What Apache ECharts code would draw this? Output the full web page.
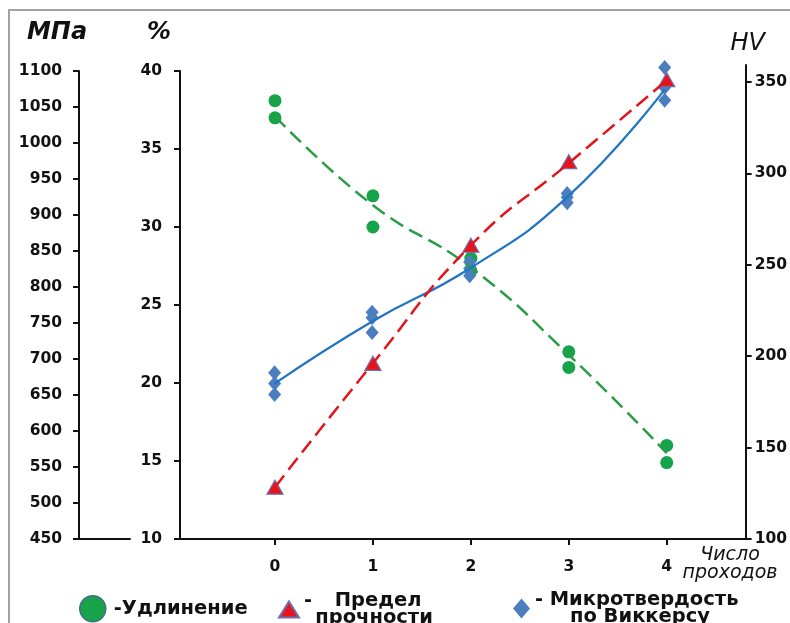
<!DOCTYPE html>
<html>
<head>
<meta charset="utf-8">
<script src="https://cdn.jsdelivr.net/npm/echarts@6/dist/echarts.min.js"></script>
<style>
html,body{margin:0;padding:0;background:#fff;}
#chart{width:790px;height:623px;}
</style>
</head>
<body>
<div id="chart"></div>
<script>
// ---- data ----
const passes = [0, 1, 2, 3, 4];
const elongationHigh = [38.1, 32.0, 28.0, 22.0, 16.0];
const elongationLow = [37.0, 30.0, 27.2, 21.0, 14.9];
const elongationTrend = [37.1, 31.4, 27.4, 21.8, 15.5];
const strength = [522, 694, 858, 974, 1088];
const strengthTrend = [522, 694, 858, 972, 1087];
const hvA = [191, 224, 251.5, 289, 358];
const hvB = [185, 221, 248, 287, 347];
const hvC = [179, 213, 244, 284, 340];
const hvTrend = [185, 219, 248, 287, 346];
const hvTicks = [100, 150, 200, 250, 300, 350];

function pairs(ys) { return passes.map((x, i) => [x, ys[i]]); }

const FONT = 'DejaVu Sans';
const labelStyle = { fontFamily: FONT, fontWeight: 'bold', fontSize: 15.5, color: '#111', formatter: v => String(v) };
const axisLineStyle = { show: true, onZero: false, lineStyle: { color: '#111', width: 2 } };
const tickStyle = { show: true, length: 6, lineStyle: { color: '#111', width: 2 } };

const chart = echarts.init(document.getElementById('chart'), null, { renderer: 'canvas' });

const option = {
  animation: false,
  backgroundColor: '#fff',
  graphic: [{
    type: 'polyline',
    shape: { points: [[9, 623], [9, 10], [790, 10]] },
    style: { stroke: '#a3a3a3', lineWidth: 2, fill: null },
    silent: true
  }],
  grid: [
    { left: 180, right: 42, top: 71, bottom: 84 },
    { left: 180, right: 42, top: 65, bottom: 84 },
    { left: 79, width: 51, top: 71, bottom: 84 }
  ],
  xAxis: [
    {
      gridIndex: 0, type: 'value', min: -0.97, max: 4.83,
      axisLine: axisLineStyle,
      axisTick: Object.assign({}, tickStyle, { customValues: passes }),
      axisLabel: Object.assign({}, labelStyle, { customValues: passes, margin: 20 }),
      splitLine: { show: false },
      name: 'Число\nпроходов',
      nameLocation: 'end',
      nameGap: -18,
      nameTextStyle: { fontFamily: FONT, fontStyle: 'italic', fontSize: 19, lineHeight: 18, color: '#111', align: 'center', verticalAlign: 'top', padding: [7, 0, 0, 0] }
    },
    { gridIndex: 1, type: 'value', min: -0.97, max: 4.83, show: false },
    {
      gridIndex: 2, type: 'value', min: 0, max: 1,
      axisLine: axisLineStyle, axisTick: { show: false }, axisLabel: { show: false }, splitLine: { show: false }
    }
  ],
  yAxis: [
    {
      gridIndex: 0, type: 'value', position: 'left', min: 10, max: 40, interval: 5,
      axisLine: axisLineStyle, axisTick: tickStyle,
      axisLabel: Object.assign({}, labelStyle, { margin: 18 }),
      splitLine: { show: false },
      name: '%', nameLocation: 'end', nameGap: 26,
      nameTextStyle: { fontFamily: FONT, fontStyle: 'italic', fontWeight: 'bold', fontSize: 24, color: '#111', padding: [0, 42, 0, 0] }
    },
    {
      gridIndex: 0, type: 'value', position: 'left', offset: 101, min: 450, max: 1100, interval: 50,
      axisLine: axisLineStyle, axisTick: tickStyle,
      axisLabel: Object.assign({}, labelStyle, { margin: 17 }),
      splitLine: { show: false },
      name: 'МПа', nameLocation: 'end', nameGap: 26,
      nameTextStyle: { fontFamily: FONT, fontStyle: 'italic', fontWeight: 'bold', fontSize: 24, color: '#111', padding: [0, 44, 0, 0] }
    },
    {
      gridIndex: 1, type: 'value', position: 'right', min: 100, max: 359.3, interval: 50,
      axisLine: axisLineStyle,
      axisTick: Object.assign({}, tickStyle, { customValues: hvTicks }),
      axisLabel: Object.assign({}, labelStyle, { margin: 9, customValues: hvTicks }),
      splitLine: { show: false },
      name: 'HV', nameLocation: 'end', nameGap: 9,
      nameTextStyle: { fontFamily: FONT, fontStyle: 'italic', fontSize: 24, color: '#111', padding: [0, 0, 0, 4] }
    },
    { gridIndex: 2, type: 'value', min: 0, max: 1, show: false }
  ],
  legend: [
    {
      data: ['Удлинение'], left: 74, top: 590, icon: 'circle', itemWidth: 26, itemHeight: 26,
      selectedMode: false,
      itemStyle: { borderColor: '#3f6f8f', borderWidth: 1.5 },
      formatter: () => '-Удлинение',
      textStyle: { fontFamily: FONT, fontWeight: 'bold', fontSize: 19.5, color: '#111', padding: [0, 0, 0, 3] }
    },
    {
      data: ['Предел прочности'], left: 273, top: 586, icon: 'triangle', itemWidth: 20, itemHeight: 16,
      selectedMode: false,
      formatter: () => '{d|-}{c|Предел}\n{c|прочности}',
      textStyle: {
        fontFamily: FONT, fontWeight: 'bold', fontSize: 19.5, color: '#111', width: 140,
        rich: {
          d: { fontFamily: FONT, fontWeight: 'bold', fontSize: 19.5, color: '#111', lineHeight: 17, align: 'left' },
          c: { fontFamily: FONT, fontWeight: 'bold', fontSize: 19.5, color: '#111', lineHeight: 17, align: 'center' }
        }
      }
    },
    {
      data: ['Микротвердость по Виккерсу'], left: 508, top: 585, icon: 'diamond', itemWidth: 17, itemHeight: 20,
      selectedMode: false,
      formatter: () => '{d|-}{c|Микротвердость}\n{c|по Виккерсу}',
      textStyle: {
        fontFamily: FONT, fontWeight: 'bold', fontSize: 19.5, color: '#111', width: 210,
        rich: {
          d: { fontFamily: FONT, fontWeight: 'bold', fontSize: 19.5, color: '#111', lineHeight: 17, align: 'left' },
          c: { fontFamily: FONT, fontWeight: 'bold', fontSize: 19.5, color: '#111', lineHeight: 17, align: 'center' }
        }
      }
    }
  ],
  series: [
    {
      name: 'Удлинение', type: 'scatter', xAxisIndex: 0, yAxisIndex: 0,
      symbol: 'circle', symbolSize: 13,
      itemStyle: { color: '#17a34a', opacity: 1 },
      data: pairs(elongationHigh).concat(pairs(elongationLow))
    },
    {
      name: 'Микротвердость по Виккерсу', type: 'scatter', xAxisIndex: 1, yAxisIndex: 2,
      symbol: 'diamond', symbolSize: [13, 15],
      itemStyle: { color: '#4a7ebf', opacity: 1 },
      data: pairs(hvA).concat(pairs(hvB), pairs(hvC))
    },
    {
      name: 'Предел прочности', type: 'scatter', xAxisIndex: 0, yAxisIndex: 1,
      symbol: 'triangle', symbolSize: [16, 14],
      itemStyle: { color: '#e8141b', borderColor: '#6b6fae', borderWidth: 1.2, opacity: 1 },
      data: pairs(strength)
    },
    {
      name: 'Удлинение тренд', type: 'line', xAxisIndex: 0, yAxisIndex: 0,
      smooth: 0.5, symbol: 'none',
      lineStyle: { color: '#2a9c46', width: 2.5, type: [15, 7] },
      data: pairs(elongationTrend)
    },
    {
      name: 'Микротвердость тренд', type: 'line', xAxisIndex: 1, yAxisIndex: 2,
      smooth: 0.5, symbol: 'none',
      lineStyle: { color: '#1f74c4', width: 2.2 },
      data: pairs(hvTrend)
    },
    {
      name: 'Предел прочности тренд', type: 'line', xAxisIndex: 0, yAxisIndex: 1,
      smooth: 0.5, symbol: 'none',
      lineStyle: { color: '#e3141b', width: 2.5, type: [15, 7] },
      data: pairs(strengthTrend)
    }
  ]
};
chart.setOption(option);
</script>
</body>
</html>
